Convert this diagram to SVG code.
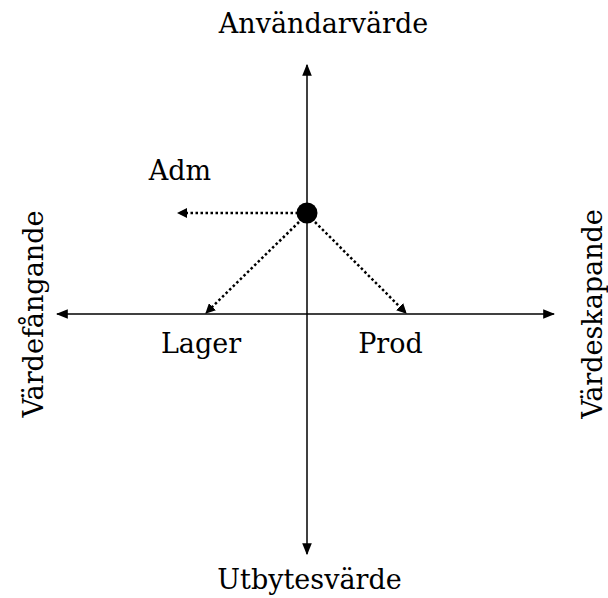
<svg xmlns="http://www.w3.org/2000/svg" width="608" height="598" viewBox="0 0 608 598">
<style>
.t{font-family:'DejaVu Serif',serif;font-size:27px;fill:#000}
.axis{stroke:#000;stroke-width:1.5;fill:none}
.dot{stroke:#000;stroke-width:2.5;stroke-dasharray:2.5 2.5;fill:none}
</style>
<defs>
<marker id="ah" viewBox="0 0 10 10" refX="9" refY="5" markerWidth="10" markerHeight="10" markerUnits="userSpaceOnUse" orient="auto"><path d="M0,0 L10,5 L0,10 Z" fill="#000"/></marker>
<marker id="ah2" viewBox="0 0 10 10" refX="9" refY="5" markerWidth="12" markerHeight="12" markerUnits="userSpaceOnUse" orient="auto"><path d="M0,1 L10,5 L0,9 Z" fill="#000"/></marker>
</defs>
<g id="connectors">
<line class="axis" x1="307" y1="314" x2="307" y2="65" marker-end="url(#ah2)"/>
<line class="axis" x1="307" y1="314" x2="307" y2="554" marker-end="url(#ah2)"/>
<line class="axis" x1="307" y1="314" x2="57" y2="314" marker-end="url(#ah2)"/>
<line class="axis" x1="307" y1="314" x2="554" y2="314" marker-end="url(#ah2)"/>
<line class="dot" x1="298" y1="213" x2="178" y2="213" marker-end="url(#ah)"/>
<line class="dot" x1="299" y1="222" x2="206" y2="313" marker-end="url(#ah)"/>
<line class="dot" x1="315" y1="222" x2="406" y2="313" marker-end="url(#ah)"/>
</g>
<g id="node-center"><circle cx="307" cy="213" r="10.5" fill="#000"/></g>
<g id="label-top"><text class="t" x="323.5" y="33" text-anchor="middle">Användarvärde</text></g>
<g id="label-bottom"><text class="t" x="309.5" y="589" text-anchor="middle">Utbytesvärde</text></g>
<g id="label-left"><text class="t" transform="translate(43,314) rotate(-90)" text-anchor="middle">Värdefångande</text></g>
<g id="label-right"><text class="t" transform="translate(602,314) rotate(-90)" text-anchor="middle">Värdeskapande</text></g>
<g id="node-adm"><text class="t" x="180" y="180" text-anchor="middle">Adm</text></g>
<g id="node-lager"><text class="t" x="201" y="353" text-anchor="middle">Lager</text></g>
<g id="node-prod"><text class="t" x="390.5" y="353" text-anchor="middle">Prod</text></g>
</svg>
